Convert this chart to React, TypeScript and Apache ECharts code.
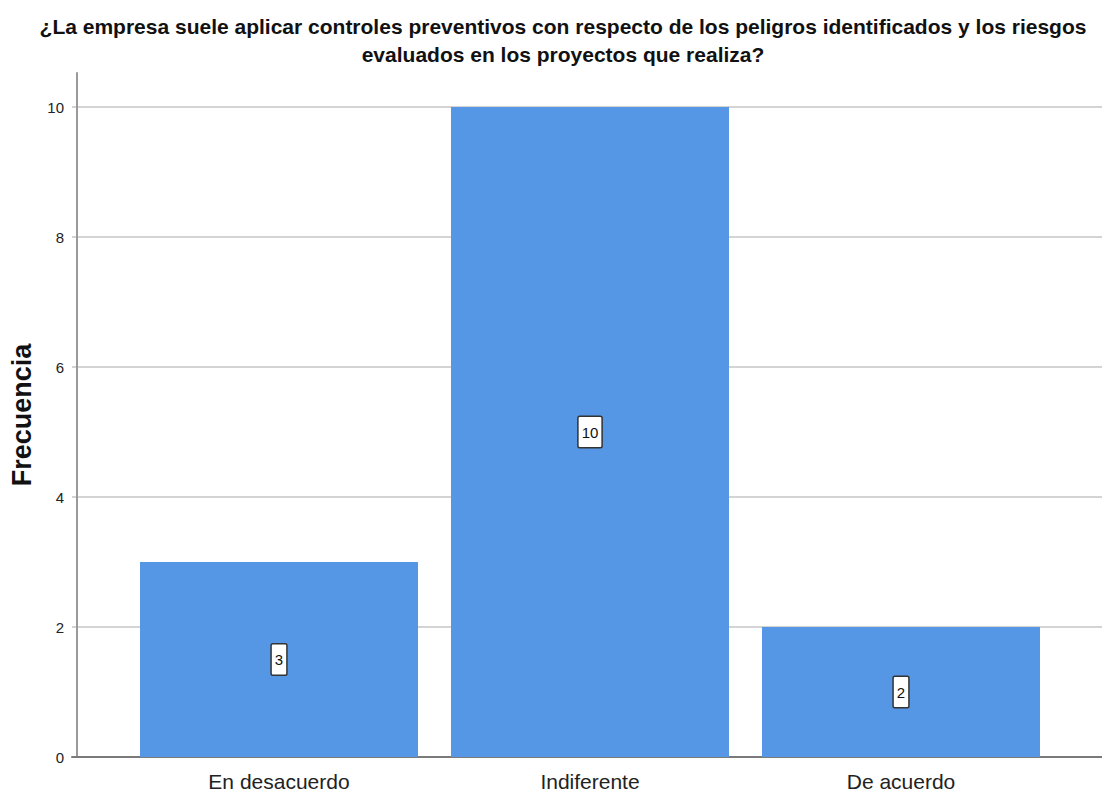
import React, { useEffect, useRef } from "react";
import * as echarts from "echarts";

const categories = ["En desacuerdo", "Indiferente", "De acuerdo"];
const frecuencias = [3, 10, 2];
const yTicks = [0, 2, 4, 6, 8, 10];
const titleLines = [
  "¿La empresa suele aplicar controles preventivos con respecto de los peligros identificados y los riesgos",
  "evaluados en los proyectos que realiza?",
];
const yAxisName = "Frecuencia";

export default function App() {
  const ref = useRef<HTMLDivElement>(null);
  useEffect(() => {
    if (!ref.current) return;
    const chart = echarts.init(ref.current, undefined, { renderer: "svg" });
    const font = "'Liberation Sans', Arial, sans-serif";
    const yMin = yTicks[0];
    const yMax = yTicks[yTicks.length - 1];
    const yInterval = yTicks[1] - yTicks[0];
    chart.setOption({
      animation: false,
      backgroundColor: "#ffffff",
      title: {
        text: titleLines.join("\n"),
        left: 558,
        top: 7,
        textAlign: "center",
        textStyle: {
          fontFamily: font,
          fontWeight: "bold",
          fontSize: 21,
          lineHeight: 28,
          color: "#111111",
        },
      },
      grid: [
        { left: 72, right: 0, top: 107, bottom: 43 },
        { left: 123.5, right: 45.5, top: 107, bottom: 43 },
        { left: 72, right: 0, top: 73, bottom: 43 },
      ],
      xAxis: [
        {
          gridIndex: 0,
          type: "category",
          data: [""],
          axisLine: { show: true, lineStyle: { color: "#7a7a7a", width: 2 } },
          axisTick: { show: false },
          axisLabel: { show: false },
          splitLine: { show: false },
        },
        {
          gridIndex: 1,
          type: "category",
          data: categories,
          axisLine: { show: false },
          axisTick: { show: false },
          axisLabel: {
            fontFamily: font,
            fontSize: 21,
            color: "#222222",
            margin: 14,
          },
        },
        {
          gridIndex: 2,
          type: "category",
          data: [""],
          show: false,
        },
      ],
      yAxis: [
        {
          gridIndex: 0,
          type: "value",
          min: yMin,
          max: yMax,
          interval: yInterval,
          axisLine: { show: false },
          axisTick: { show: false },
          axisLabel: {
            fontFamily: font,
            fontSize: 15,
            color: "#222222",
            margin: 8,
          },
          splitLine: { show: true, lineStyle: { color: "#d4d4d4", width: 2 } },
        },
        {
          gridIndex: 1,
          type: "value",
          min: yMin,
          max: yMax,
          interval: yInterval,
          show: false,
        },
        {
          gridIndex: 2,
          type: "value",
          min: 0,
          max: 1,
          name: yAxisName,
          nameLocation: "middle",
          nameGap: 42,
          nameTextStyle: {
            fontFamily: font,
            fontWeight: "bold",
            fontSize: 27,
            color: "#111111",
          },
          axisLine: { show: true, lineStyle: { color: "#9a9a9a", width: 2 } },
          axisTick: { show: false },
          axisLabel: { show: false },
          splitLine: { show: false },
        },
      ],
      series: [
        {
          type: "bar",
          xAxisIndex: 1,
          yAxisIndex: 1,
          data: frecuencias,
          barWidth: 278,
          itemStyle: { color: "#5596e5" },
          label: {
            show: true,
            position: "inside",
            fontFamily: font,
            fontSize: 15,
            color: "#111111",
            backgroundColor: "#ffffff",
            borderColor: "#333333",
            borderWidth: 1.5,
            borderRadius: 1,
            padding: [8, 3, 7, 3],
          },
          z: 3,
        },
      ],
    });
    return () => chart.dispose();
  }, []);
  return (
    <div
      ref={ref}
      style={{ position: "absolute", left: 0, top: 0, width: 1102, height: 800 }}
    />
  );
}
